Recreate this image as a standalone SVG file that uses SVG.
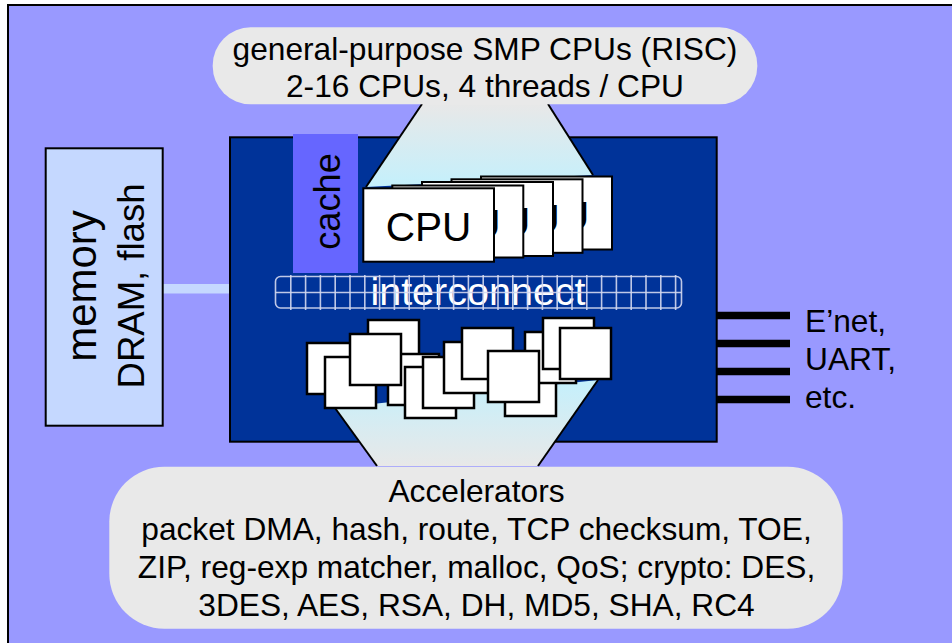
<svg xmlns="http://www.w3.org/2000/svg" width="952" height="643" viewBox="0 0 952 643">
<defs>
<linearGradient id="gTop" x1="0" y1="0" x2="0" y2="1">
<stop offset="0" stop-color="#E8E8E8"/>
<stop offset="1" stop-color="#C4F0FC"/>
</linearGradient>
<linearGradient id="gBot" x1="0" y1="0" x2="0" y2="1">
<stop offset="0" stop-color="#C4F0FC"/>
<stop offset="1" stop-color="#E8E8E8"/>
</linearGradient>
<style>
text{font-family:"Liberation Sans",Arial,sans-serif;fill:#000}
.lbl{font-size:31.7px;text-anchor:middle}
.card{fill:#fff;stroke:#000;stroke-width:2}
.cpu{font-size:40.6px;text-anchor:middle}
.acc{fill:#fff;stroke:#000;stroke-width:2.5}
.bubble{fill:#E9E9E9}
.edge{stroke:#000;stroke-width:2;fill:none}
.io{stroke:#000;stroke-width:7.5}
.grid{stroke:#D4D8F0;stroke-width:1.6;fill:none;opacity:0.9}
</style>
</defs>
<rect x="0" y="0" width="952" height="643" fill="#fff"/>
<rect id="frame" x="8" y="5" width="960" height="660" fill="#9999FF" stroke="#000" stroke-width="2"/>

<g id="connectors">
<rect id="mem-link" x="163" y="284" width="67" height="9.5" fill="#C5D8FF"/>
<g id="io-lines">
<line class="io" x1="716" y1="315.5" x2="790" y2="315.5"/>
<line class="io" x1="716" y1="343.5" x2="790" y2="343.5"/>
<line class="io" x1="716" y1="371.5" x2="790" y2="371.5"/>
<line class="io" x1="716" y1="399.5" x2="790" y2="399.5"/>
</g>
</g>

<g id="memory">
<rect x="45.7" y="148.3" width="117" height="277.4" fill="#C5D8FF" stroke="#000" stroke-width="2"/>
<text transform="translate(96,286) rotate(-90)" text-anchor="middle" font-size="42">memory</text>
<text transform="translate(144,286) rotate(-90)" text-anchor="middle" font-size="36.5">DRAM, flash</text>
</g>

<g id="chip">
<rect x="230" y="137.3" width="486.7" height="304.4" fill="#003399" stroke="#000" stroke-width="2"/>
</g>

<g id="cache">
<rect x="293" y="134" width="65" height="139" fill="#6666FF"/>
<text transform="translate(340,201.5) rotate(-90)" text-anchor="middle" font-size="36.2">cache</text>
</g>

<g id="callouts">
<polygon points="422,104 548,104 593,175 366,187" fill="url(#gTop)"/>
<line class="edge" x1="422" y1="104" x2="366" y2="187"/>
<line class="edge" x1="548" y1="104" x2="593" y2="175"/>
<polygon points="335,408 598,380 538,466 377,466" fill="url(#gBot)"/>
<line class="edge" x1="335" y1="408" x2="377" y2="466"/>
<line class="edge" x1="598" y1="380" x2="538" y2="466"/>
</g>

<g id="cpu-bubble">
<rect class="bubble" x="212.7" y="27.3" width="544.6" height="77" rx="38" ry="38"/>
<text class="lbl" x="485" y="59.5">general-purpose SMP CPUs (RISC)</text>
<text class="lbl" x="485" y="97.3">2-16 CPUs, 4 threads / CPU</text>
</g>

<g id="cpus">
<rect class="card" x="481" y="176.5" width="131" height="73"/>
<text class="cpu" x="546.5" y="229.5">CPU</text>
<rect class="card" x="451.5" y="179.3" width="131" height="73.5"/>
<text class="cpu" x="517" y="232.5">CPU</text>
<rect class="card" x="422" y="182" width="131" height="74"/>
<text class="cpu" x="487.5" y="235.5">CPU</text>
<rect class="card" x="392.3" y="185.5" width="131" height="72"/>
<text class="cpu" x="457.8" y="238">CPU</text>
<rect class="card" x="363.3" y="188.3" width="130.7" height="73.4"/>
<text class="cpu" x="428.6" y="241">CPU</text>
</g>

<g id="interconnect">
<text x="478" y="305" text-anchor="middle" font-size="39.5" style="fill:#fff">interconnect</text>
<rect class="grid" x="275.5" y="276.5" width="406" height="31.5" rx="5" ry="5"/>
<line class="grid" x1="275.5" y1="292.5" x2="681.5" y2="292.5"/>
<path class="grid" d="M290.8 275V310M305.6 275V310M320.4 275V310M335.2 275V310M350 275V310M364.8 275V310M379.6 275V310M394.4 275V310M409.2 275V310M424 275V310M438.8 275V310M453.6 275V310M468.4 275V310M483.2 275V310M498 275V310M512.8 275V310M527.6 275V310M542.4 275V310M557.2 275V310M572 275V310M586.8 275V310M601.6 275V310M616.4 275V310M631.2 275V310M646 275V310M660.8 275V310M675.6 275V310"/>
</g>

<g id="accelerators">
<rect class="acc" x="307" y="343" width="51" height="51"/>
<rect class="acc" x="368" y="320" width="51" height="51"/>
<rect class="acc" x="325" y="357" width="51" height="51"/>
<rect class="acc" x="388" y="354" width="51" height="51"/>
<rect class="acc" x="350" y="334" width="51" height="51"/>
<rect class="acc" x="405" y="367" width="51" height="51"/>
<rect class="acc" x="423" y="357" width="51" height="51"/>
<rect class="acc" x="444" y="342" width="51" height="51"/>
<rect class="acc" x="462" y="328" width="51" height="51"/>
<rect class="acc" x="505" y="365" width="51" height="51"/>
<rect class="acc" x="525" y="332" width="51" height="51"/>
<rect class="acc" x="488" y="351" width="51" height="51"/>
<rect class="acc" x="543" y="318" width="51" height="51"/>
<rect class="acc" x="560" y="328" width="51" height="51"/>
</g>

<g id="accel-bubble">
<rect class="bubble" x="109.3" y="466.7" width="733.4" height="162" rx="55" ry="55"/>
<text class="lbl" x="476.5" y="501.7">Accelerators</text>
<text class="lbl" x="476.5" y="540">packet DMA, hash, route, TCP checksum, TOE,</text>
<text class="lbl" x="476.5" y="578.3">ZIP, reg-exp matcher, malloc, QoS; crypto: DES,</text>
<text class="lbl" x="476.5" y="616">3DES, AES, RSA, DH, MD5, SHA, RC4</text>
</g>

<g id="io-label">
<text x="805" y="331.7" font-size="31.7">E’net,</text>
<text x="805" y="370" font-size="31.7">UART,</text>
<text x="805" y="408.3" font-size="31.7">etc.</text>
</g>
</svg>
